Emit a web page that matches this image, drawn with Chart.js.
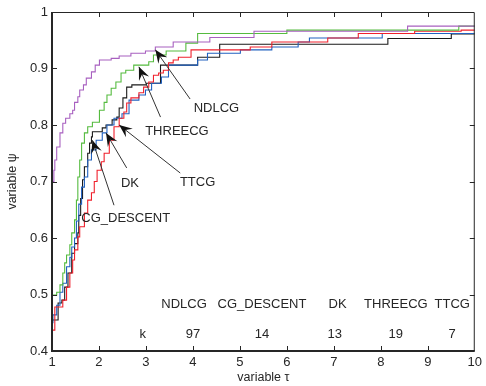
<!DOCTYPE html>
<html>
<head>
    <title>Performance profile</title>
    <script src="https://cdn.jsdelivr.net/npm/chart.js"></script>
    <style>
        body { margin: 0; background: #fff; }
    </style>
</head>
<body>
    <canvas id="profile" width="486" height="386"></canvas>

    <script>
        // tau / psi pairs (step points)
        const tauNDLCG = [1.00, 1.04, 1.06, 1.10, 1.17, 1.23, 1.29, 1.38, 1.44, 1.48, 1.55, 1.59, 1.67, 1.73, 1.84, 1.92, 2.01, 2.26, 2.43, 2.68, 2.99, 3.20, 3.58, 4.36, 5.30, 8.57, 10];
        const psiNDLCG = [0.700, 0.720, 0.738, 0.761, 0.786, 0.803, 0.812, 0.820, 0.826, 0.840, 0.850, 0.862, 0.871, 0.883, 0.894, 0.906, 0.915, 0.918, 0.922, 0.927, 0.931, 0.938, 0.947, 0.955, 0.966, 0.975, 0.975];

        const tauTHREECG = [1.00, 1.10, 1.17, 1.23, 1.27, 1.31, 1.38, 1.42, 1.48, 1.52, 1.55, 1.59, 1.63, 1.69, 1.76, 1.86, 2.01, 2.11, 2.17, 2.26, 2.36, 2.47, 2.57, 2.74, 3.06, 3.16, 3.43, 3.85, 4.10, 6.00, 9.66, 10];
        const psiTHREECG = [0.499, 0.504, 0.517, 0.538, 0.556, 0.570, 0.588, 0.609, 0.632, 0.667, 0.708, 0.738, 0.768, 0.786, 0.797, 0.805, 0.826, 0.840, 0.853, 0.865, 0.876, 0.892, 0.897, 0.906, 0.912, 0.924, 0.931, 0.945, 0.962, 0.968, 0.975, 0.975];

        const tauTTCG = [1.00, 1.06, 1.23, 1.31, 1.38, 1.44, 1.48, 1.55, 1.59, 1.69, 1.76, 1.84, 1.90, 1.96, 2.05, 2.11, 2.22, 2.32, 2.43, 2.53, 2.59, 2.68, 2.85, 2.95, 3.06, 3.16, 3.27, 3.37, 3.48, 3.58, 3.69, 3.96, 5.22, 5.68, 6.87, 7.52, 8.72, 9.71, 10];
        const psiTTCG = [0.437, 0.478, 0.490, 0.513, 0.538, 0.561, 0.579, 0.602, 0.620, 0.644, 0.667, 0.680, 0.700, 0.720, 0.735, 0.750, 0.773, 0.797, 0.812, 0.823, 0.839, 0.848, 0.857, 0.867, 0.876, 0.888, 0.892, 0.897, 0.910, 0.915, 0.920, 0.933, 0.938, 0.947, 0.954, 0.962, 0.966, 0.968, 0.968];

        const tauDK = [1.00, 1.02, 1.10, 1.17, 1.23, 1.31, 1.38, 1.42, 1.48, 1.52, 1.57, 1.63, 1.69, 1.76, 1.84, 1.94, 2.07, 2.17, 2.32, 2.49, 2.64, 2.85, 2.99, 3.12, 3.33, 3.48, 4.10, 4.31, 5.01, 5.68, 6.24, 6.48, 8.03, 10];
        const psiDK = [0.450, 0.464, 0.481, 0.504, 0.520, 0.549, 0.566, 0.584, 0.600, 0.630, 0.660, 0.690, 0.708, 0.738, 0.756, 0.773, 0.786, 0.800, 0.812, 0.820, 0.844, 0.853, 0.862, 0.874, 0.885, 0.906, 0.915, 0.927, 0.933, 0.938, 0.947, 0.954, 0.962, 0.962];

        const tauCGD = [1.00, 1.13, 1.21, 1.27, 1.34, 1.42, 1.48, 1.55, 1.57, 1.61, 1.65, 1.69, 1.76, 1.80, 1.84, 1.86, 2.07, 2.15, 2.28, 2.38, 2.43, 2.51, 2.59, 2.70, 3.01, 3.31, 4.10, 4.57, 8.15, 9.50, 10];
        const psiCGD = [0.455, 0.485, 0.490, 0.513, 0.538, 0.573, 0.590, 0.609, 0.640, 0.670, 0.703, 0.726, 0.750, 0.768, 0.779, 0.788, 0.795, 0.800, 0.809, 0.814, 0.830, 0.848, 0.867, 0.871, 0.874, 0.906, 0.920, 0.943, 0.953, 0.961, 0.961];

        const xTicks = [1, 2, 3, 4, 5, 6, 7, 8, 9, 10];
        const yTicks = [0.4, 0.5, 0.6, 0.7, 0.8, 0.9, 1];

        // the little table in the lower right
        const solvers = ['NDLCG', 'CG_DESCENT', 'DK', 'THREECG', 'TTCG'];
        const kValues = [97, 14, 13, 19, 7];

        const FONT = '"Liberation Sans", Arial, Helvetica, sans-serif';
        const INK = '#262626';

        // labelled arrows, in data units: text centre, line start, arrow tip
        const arrows = [
            { text: 'NDLCG',      tx: 4.50, ty: 0.830, sx: 3.94, sy: 0.846, ex: 3.20, ey: 0.933 },
            { text: 'THREECG',    tx: 3.66, ty: 0.788, sx: 3.31, sy: 0.814, ex: 2.85, ey: 0.903 },
            { text: 'TTCG',       tx: 4.10, ty: 0.699, sx: 3.73, sy: 0.715, ex: 2.43, ey: 0.800 },
            { text: 'DK',         tx: 2.66, ty: 0.697, sx: 2.59, sy: 0.724, ex: 2.15, ey: 0.786 },
            { text: 'CG_DESCENT', tx: 2.57, ty: 0.634, sx: 2.32, sy: 0.658, ex: 1.86, ey: 0.773 }
        ];
        const headX = [3.81, 5.47, 7.08, 8.32, 9.52];
        const kX = [4.00, 5.47, 7.02, 8.32, 9.52];

        function toPoints(tau, psi) {
            return tau.map((t, i) => ({ x: t, y: psi[i] }));
        }

        function drawHead(ctx, x0, y0, x1, y1) {
            const ang = Math.atan2(y1 - y0, x1 - x0);
            const len = 13, half = 5.5, notch = 8;
            ctx.save();
            ctx.translate(x1, y1);
            ctx.rotate(ang);
            ctx.beginPath();
            ctx.moveTo(0, 0);
            ctx.lineTo(-len, -half);
            ctx.lineTo(-notch, 0);
            ctx.lineTo(-len, half);
            ctx.closePath();
            ctx.fill();
            ctx.restore();
        }

        const frame = {
            id: 'frame',
            afterDraw(chart) {
                const { ctx, chartArea: a, scales: { x, y } } = chart;
                ctx.save();
                ctx.strokeStyle = INK;
                ctx.fillStyle = INK;

                // box: heavier on left/bottom
                ctx.lineWidth = 1;
                ctx.beginPath();
                ctx.moveTo(a.left, a.top + 0.5);
                ctx.lineTo(a.right - 0.5, a.top + 0.5);
                ctx.lineTo(a.right - 0.5, a.bottom);
                ctx.stroke();
                ctx.lineWidth = 2;
                ctx.beginPath();
                ctx.moveTo(a.left, a.top);
                ctx.lineTo(a.left, a.bottom);
                ctx.lineTo(a.right, a.bottom);
                ctx.stroke();

                // inward ticks on all four sides
                ctx.lineWidth = 1;
                ctx.beginPath();
                xTicks.slice(1, -1).forEach(v => {
                    const px = Math.round(x.getPixelForValue(v)) + 0.5;
                    ctx.moveTo(px, a.bottom); ctx.lineTo(px, a.bottom - 5);
                    ctx.moveTo(px, a.top); ctx.lineTo(px, a.top + 5);
                });
                yTicks.slice(1, -1).forEach(v => {
                    const py = Math.round(y.getPixelForValue(v)) + 0.5;
                    ctx.moveTo(a.left, py); ctx.lineTo(a.left + 5, py);
                    ctx.moveTo(a.right, py); ctx.lineTo(a.right - 5, py);
                });
                ctx.stroke();

                // arrows with labels
                ctx.font = '13px ' + FONT;
                ctx.textAlign = 'center';
                ctx.textBaseline = 'middle';
                arrows.forEach(ar => {
                    const sx = x.getPixelForValue(ar.sx), sy = y.getPixelForValue(ar.sy);
                    const ex = x.getPixelForValue(ar.ex), ey = y.getPixelForValue(ar.ey);
                    ctx.strokeStyle = '#333';
                    ctx.lineWidth = 1;
                    ctx.beginPath();
                    ctx.moveTo(sx, sy);
                    ctx.lineTo(ex, ey);
                    ctx.stroke();
                    ctx.fillStyle = '#111';
                    drawHead(ctx, sx, sy, ex, ey);
                    ctx.fillStyle = INK;
                    ctx.fillText(ar.text, x.getPixelForValue(ar.tx), y.getPixelForValue(ar.ty));
                });

                // table
                solvers.forEach((s, i) => {
                    ctx.fillText(s, x.getPixelForValue(headX[i]), y.getPixelForValue(0.483));
                    ctx.fillText(String(kValues[i]), x.getPixelForValue(kX[i]), y.getPixelForValue(0.430));
                });
                ctx.fillText('k', x.getPixelForValue(2.93), y.getPixelForValue(0.430));

                // axis titles
                ctx.font = '12.5px ' + FONT;
                ctx.fillText('variable \u03c4', (a.left + a.right) / 2, 378);
                ctx.save();
                ctx.translate(13, (a.top + a.bottom) / 2);
                ctx.rotate(-Math.PI / 2);
                ctx.fillText('variable \u03c8', 0, 0);
                ctx.restore();

                ctx.restore();
            }
        };

        const line = (label, tau, psi, color) => ({
            label,
            data: toPoints(tau, psi),
            borderColor: color,
            borderWidth: 1.1,
            pointRadius: 0,
            stepped: true,
            fill: false
        });

        new Chart(document.getElementById('profile'), {
            type: 'line',
            data: {
                datasets: [
                    line('NDLCG', tauNDLCG, psiNDLCG, '#a860c0'),
                    line('THREECG', tauTHREECG, psiTHREECG, '#55bb3f'),
                    line('TTCG', tauTTCG, psiTTCG, '#f0202c'),
                    line('DK', tauDK, psiDK, '#2262c0'),
                    line('CG_DESCENT', tauCGD, psiCGD, '#1a1a1a')
                ]
            },
            options: {
                responsive: false,
                animation: false,
                layout: { padding: { top: 12, right: 5, left: 0, bottom: 0 } },
                plugins: {
                    legend: { display: false },
                    tooltip: { enabled: false }
                },
                scales: {
                    x: {
                        type: 'linear',
                        min: 1, max: 10,
                        afterBuildTicks: s => { s.ticks = xTicks.map(v => ({ value: v })); },
                        afterFit: s => { s.height = 35; },
                        grid: { display: false, drawTicks: false },
                        border: { display: false },
                        ticks: { padding: 4, color: INK, font: { family: FONT, size: 13 }, maxRotation: 0 }
                    },
                    y: {
                        min: 0.4, max: 1,
                        afterBuildTicks: s => { s.ticks = yTicks.map(v => ({ value: v })); },
                        afterFit: s => { s.width = 52; },
                        grid: { display: false, drawTicks: false },
                        border: { display: false },
                        ticks: {
                            padding: 4, color: INK, font: { family: FONT, size: 13 },
                            callback: v => String(Math.round(v * 10) / 10)
                        }
                    }
                }
            },
            plugins: [frame]
        });
    </script>
</body>
</html>
